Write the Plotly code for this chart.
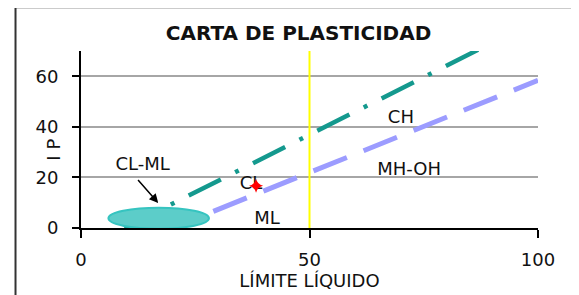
import plotly.graph_objects as go

# ---- data ----
a_line_x = [18, 100]          # violet dashed line (A-line)
a_line_y = [-1.4, 58.4]
u_line_x = [9.5, 88]          # teal dash-dot line (U-line)
u_line_y = [0, 71.5]
ll50_x = [50, 50]             # yellow vertical line at LL = 50
ll50_y = [0, 70]
sample_x = [38.3]             # red sample point
sample_y = [16.7]
label_text = ["CH", "MH-OH", "CL", "ML", "CL-ML"]
label_x = [70, 71.8, 37.2, 40.7, 13.5]
label_y = [43.3, 22.9, 17.4, 3.2, 24.9]
clml_zone_x = [6, 28]         # CL-ML hatched ellipse extents
clml_zone_y = [-0.3, 8]
arrow_tail = [12.2, 19.6]
arrow_head = [16.9, 9.9]
x_ticks = [0, 50, 100]
y_ticks = [0, 20, 40, 60]

FONT = "Verdana, DejaVu Sans, sans-serif"

fig = go.Figure()

fig.add_trace(go.Scatter(
    x=a_line_x, y=a_line_y, mode="lines",
    line=dict(color="#9C9CFF", width=5, dash="36px,18px"),
    showlegend=False, hoverinfo="skip"))

fig.add_trace(go.Scatter(
    x=u_line_x, y=u_line_y, mode="lines",
    line=dict(color="#14998E", width=4.5, dash="36px,16px,4px,16px"),
    showlegend=False, hoverinfo="skip"))

fig.add_trace(go.Scatter(
    x=ll50_x, y=ll50_y, mode="lines",
    line=dict(color="#FFFF00", width=2),
    showlegend=False, hoverinfo="skip"))

fig.add_trace(go.Scatter(
    x=label_x, y=label_y, mode="text", text=label_text,
    textposition="middle center",
    textfont=dict(family=FONT, size=18, color="#111111"),
    showlegend=False, hoverinfo="skip"))

fig.add_trace(go.Scatter(
    x=sample_x, y=sample_y, mode="markers",
    marker=dict(symbol="star-diamond", size=10, color="#FF0000"),
    showlegend=False, hoverinfo="skip"))

# CL-ML zone ellipse
fig.add_shape(type="circle", xref="x", yref="y",
              x0=clml_zone_x[0], x1=clml_zone_x[1],
              y0=clml_zone_y[0], y1=clml_zone_y[1],
              fillcolor="#5CCDC9", line=dict(color="#36C4C0", width=2),
              layer="above")

# arrow to the CL-ML zone
fig.add_annotation(x=arrow_head[0], y=arrow_head[1], xref="x", yref="y",
                   ax=arrow_tail[0], ay=arrow_tail[1], axref="x", ayref="y",
                   text="", showarrow=True, arrowhead=2, arrowsize=1.2,
                   arrowwidth=1.5, arrowcolor="#000000")

# outer chart border
fig.add_shape(type="rect", xref="paper", yref="paper",
              x0=-0.1433, x1=1.2, y0=-0.6, y1=1.2469,
              line=dict(color="#333333", width=2), fillcolor="rgba(0,0,0,0)",
              layer="above")

# y axis title
fig.add_annotation(text="I P", xref="paper", yref="paper",
                   x=-0.0875, y=0.44, textangle=-90, showarrow=False,
                   font=dict(family=FONT, size=18, color="#111111"))

# page body has an 8px margin, so the figure is sized 8px smaller
fig.update_layout(
    width=571, height=287,
    margin=dict(l=73, r=41, t=43, b=67, autoexpand=False),
    paper_bgcolor="white", plot_bgcolor="white",
    title=dict(text="<b>CARTA DE PLASTICIDAD</b>", x=0.5088, y=0.9129,
               xanchor="center", yanchor="middle",
               font=dict(family=FONT, size=20, color="#111111")),
    font=dict(family=FONT, size=18, color="#111111"),
    xaxis=dict(range=[0, 100], tickvals=x_ticks, showgrid=False,
               automargin=False,
               zeroline=False, showline=True, linecolor="#000000", linewidth=2,
               ticks="outside", ticklen=8, tickwidth=2, tickcolor="#000000",
               ticklabelstandoff=6,
               title=dict(text="LÍMITE LÍQUIDO", standoff=6,
                          font=dict(family=FONT, size=18))),
    yaxis=dict(range=[0, 70], tickvals=y_ticks, showgrid=True,
               automargin=False,
               gridcolor="#A6A6A6", gridwidth=2,
               zeroline=False, showline=True, linecolor="#000000", linewidth=2,
               ticks="outside", ticklen=7, tickwidth=2, tickcolor="#000000",
               ticklabelstandoff=10),
)

fig.write_html("out.html")
